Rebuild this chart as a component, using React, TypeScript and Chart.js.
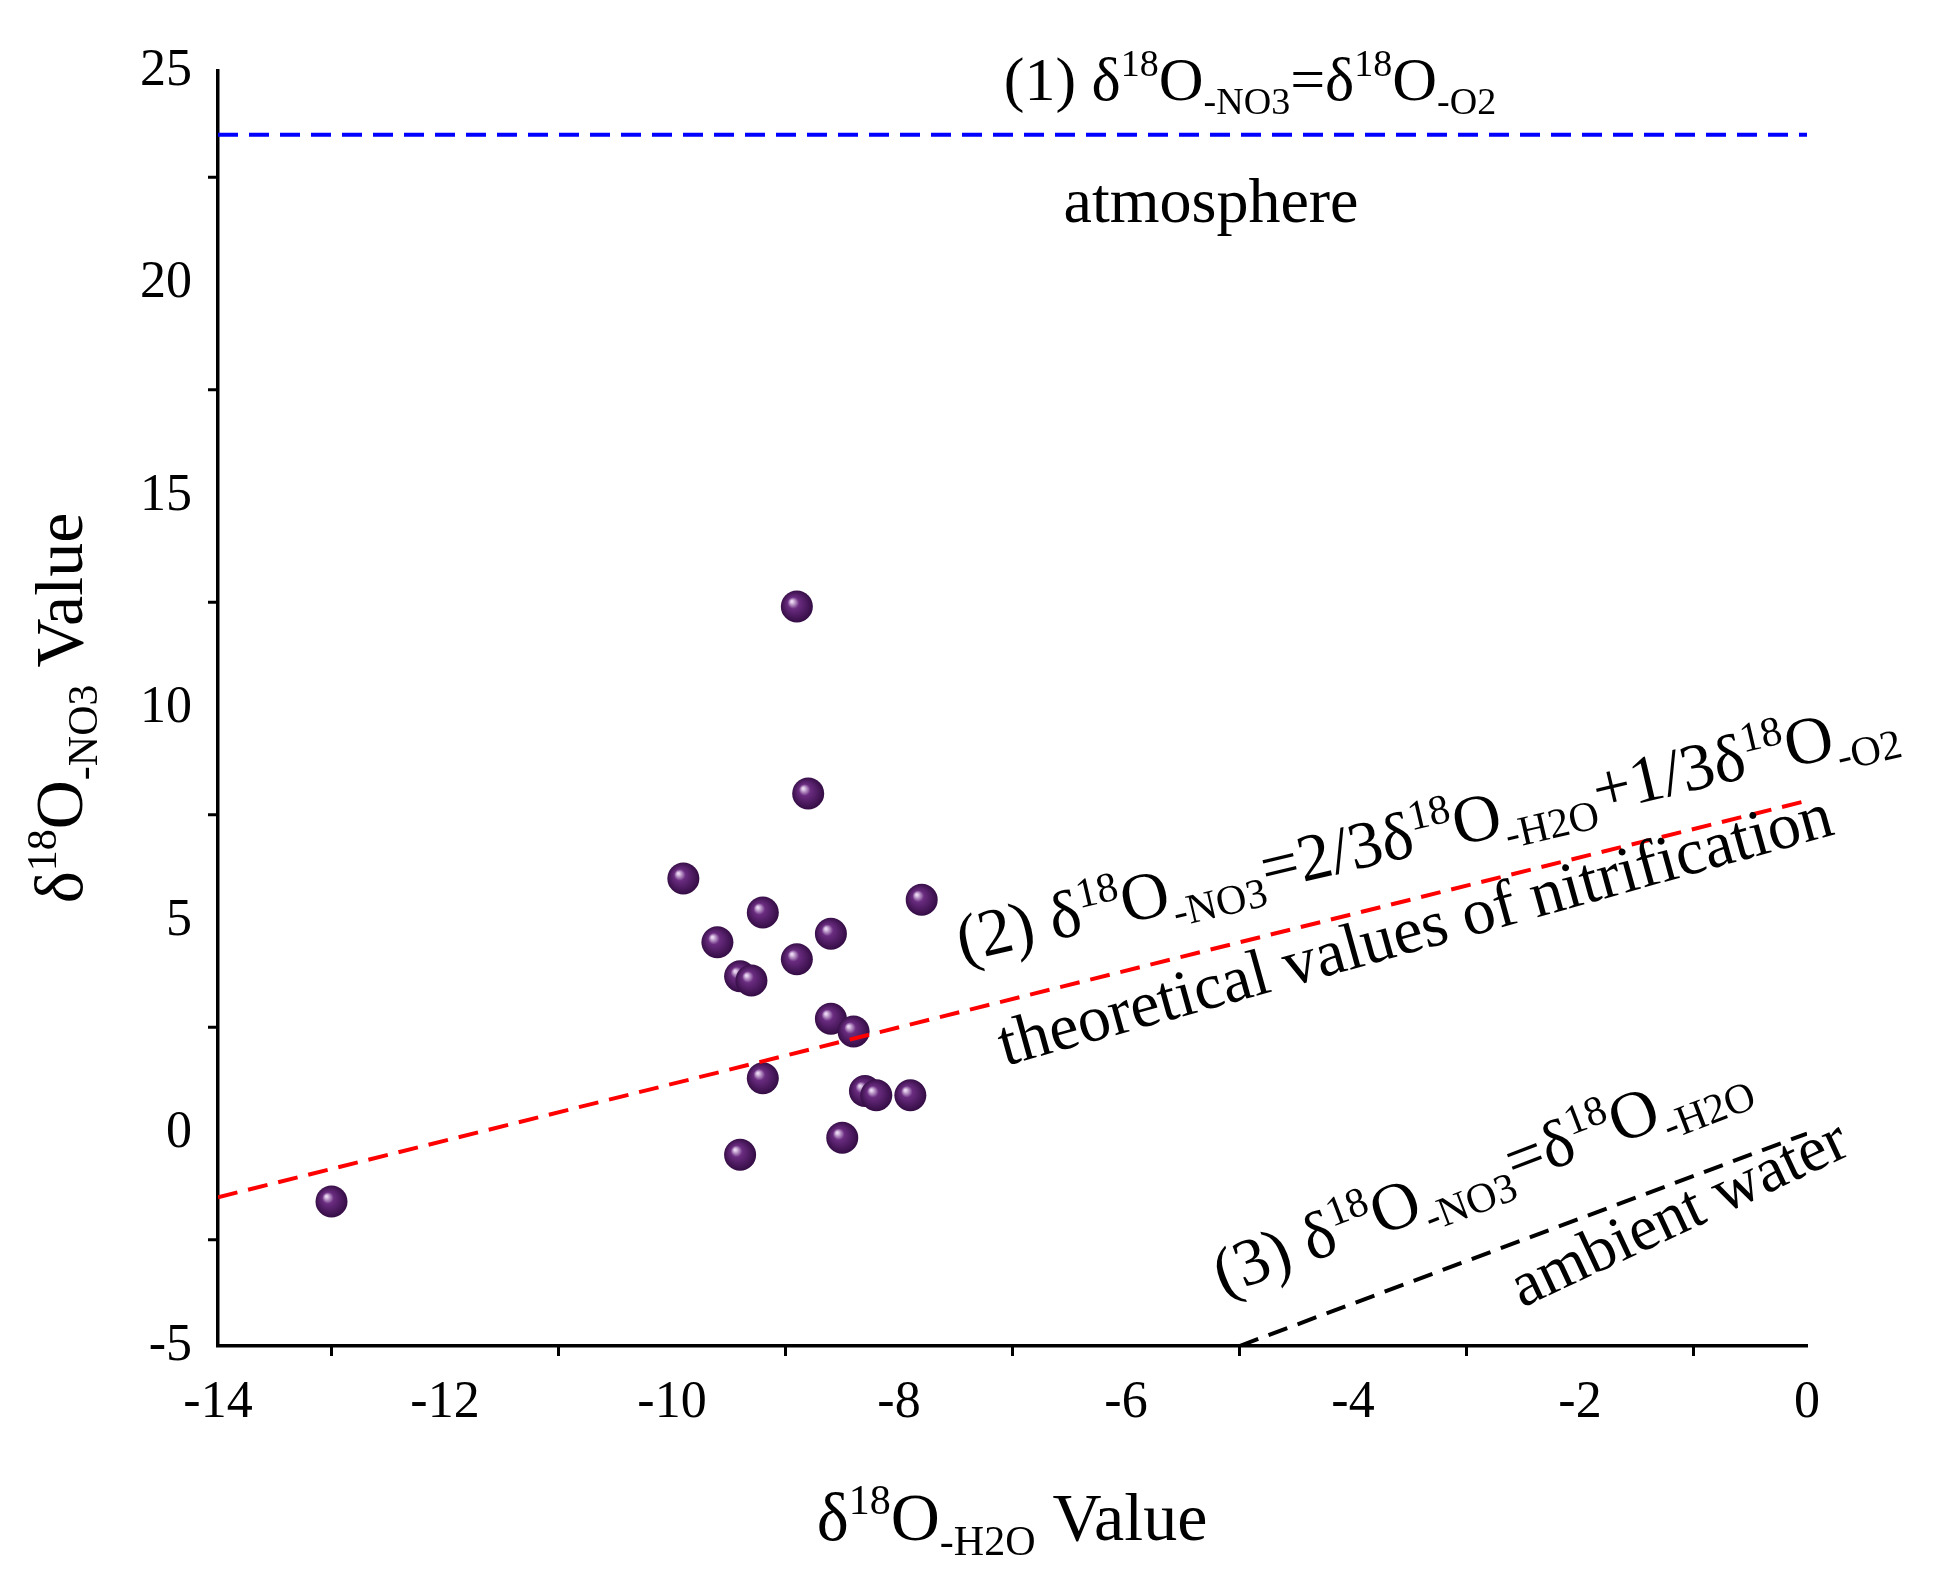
import React, { useEffect, useRef } from "react";
import { Chart, registerables } from "chart.js";
Chart.register(...registerables);

const xValues = [-13, -9.9, -9.6, -9.4, -9.3, -9.2, -9.2, -9.4, -8.9, -8.8, -8.9, -8.6, -8.6, -8.4, -8.3, -8.2, -7.9, -8.5, -7.8];
const yValues = [-1.6, 6.0, 4.5, 3.7, 3.6, 5.2, 1.3, -0.5, 12.4, 8.0, 4.1, 4.7, 2.7, 2.4, 1.0, 0.9, 0.9, -0.1, 5.5];
const atmosphereLine = [{ x: -14, y: 23.5 }, { x: 0, y: 23.5 }];
const nitrificationLine = [{ x: -14, y: -1.5 }, { x: 0, y: 7.83 }];
const waterLine = [{ x: -5, y: -5 }, { x: 0, y: 0 }];

const FONT = '"Liberation Serif", "Times New Roman", serif';
type Seg = [string, "n" | "sup" | "sub"];

function rich(ctx: CanvasRenderingContext2D, segs: Seg[], x: number, y: number, size: number, angle = 0, align: "left" | "center" = "left") {
  ctx.save();
  ctx.translate(x, y);
  ctx.rotate(angle);
  ctx.fillStyle = "#000";
  ctx.textBaseline = "alphabetic";
  ctx.textAlign = "left";
  const fontFor = (t: string) => `${t === "n" ? size : Math.round(size * 0.62)}px ${FONT}`;
  let total = 0;
  for (const [s, t] of segs) { ctx.font = fontFor(t); total += ctx.measureText(s).width; }
  let cx = align === "center" ? -total / 2 : 0;
  for (const [s, t] of segs) {
    ctx.font = fontFor(t);
    const dy = t === "sup" ? -size * 0.38 : t === "sub" ? size * 0.22 : 0;
    ctx.fillText(s, cx, dy);
    cx += ctx.measureText(s).width;
  }
  ctx.restore();
}

const deg = (d: number) => (d * Math.PI) / 180;

const annot = {
  id: "annot",
  afterDraw(chart: any) {
    const ctx = chart.ctx as CanvasRenderingContext2D;
    const xs = chart.scales.x, ys = chart.scales.y;
    ctx.save();
    ctx.strokeStyle = "#000";
    ctx.lineWidth = 3;
    for (let v = -13; v < 0; v += 2) {
      const px = xs.getPixelForValue(v);
      ctx.beginPath(); ctx.moveTo(px, ys.bottom); ctx.lineTo(px, ys.bottom + 10); ctx.stroke();
    }
    for (let v = -2.5; v < 25; v += 5) {
      const py = ys.getPixelForValue(v);
      ctx.beginPath(); ctx.moveTo(xs.left, py); ctx.lineTo(xs.left - 10, py); ctx.stroke();
    }
    ctx.restore();
    rich(ctx, [["(1) δ", "n"], ["18", "sup"], ["O", "n"], ["-NO3", "sub"], ["=δ", "n"], ["18", "sup"], ["O", "n"], ["-O2", "sub"]], 1250, 100, 62, 0, "center");
    rich(ctx, [["atmosphere", "n"]], 1211, 222, 64, 0, "center");
    rich(ctx, [["(2) δ", "n"], ["18", "sup"], ["O", "n"], ["-NO3", "sub"], ["=2/3δ", "n"], ["18", "sup"], ["O", "n"], ["-H2O", "sub"], ["+1/3δ", "n"], ["18", "sup"], ["O", "n"], ["-O2", "sub"]], 962, 962, 67, deg(-13.2));
    rich(ctx, [["theoretical values of nitrification", "n"]], 1005, 1066, 66, deg(-15.6));
    rich(ctx, [["(3) δ", "n"], ["18", "sup"], ["O", "n"], ["-NO3", "sub"], ["=δ", "n"], ["18", "sup"], ["O", "n"], ["-H2O", "sub"]], 1223, 1296, 67, deg(-21));
    rich(ctx, [["ambient water", "n"]], 1522, 1308, 64, deg(-25));
    rich(ctx, [["δ", "n"], ["18", "sup"], ["O", "n"], ["-H2O", "sub"], [" Value", "n"]], 1012, 1540, 68, 0, "center");
    rich(ctx, [["δ", "n"], ["18", "sup"], ["O", "n"], ["-NO3", "sub"], [" Value", "n"]], 82, 708, 68, deg(-90), "center");
  },
};

export default function App() {
  const ref = useRef<HTMLCanvasElement>(null);
  useEffect(() => {
    document.body.style.margin = "0";
    const ctx = ref.current!.getContext("2d")!;
    const ballColor = (c: any) => {
      const el = c.element;
      if (!el || el.x == null) return "#4b1a5e";
      const g = ctx.createRadialGradient(el.x - 5, el.y - 5, 1, el.x, el.y, 17);
      g.addColorStop(0, "#e8d4f0");
      g.addColorStop(0.3, "#6a2c80");
      g.addColorStop(1, "#300a40");
      return g;
    };
    const chart = new Chart(ref.current!, {
      type: "scatter",
      data: {
        datasets: [
          { data: atmosphereLine, showLine: true, borderColor: "#0000ff", borderWidth: 4, borderDash: [20, 11], pointRadius: 0 } as any,
          { data: nitrificationLine, showLine: true, borderColor: "#ff0000", borderWidth: 4, borderDash: [20, 11], pointRadius: 0 } as any,
          { data: waterLine, showLine: true, borderColor: "#000", borderWidth: 4, borderDash: [20, 11], pointRadius: 0 } as any,
          { data: xValues.map((x, i) => ({ x, y: yValues[i] })), pointRadius: 16, backgroundColor: ballColor, borderWidth: 0 } as any,
        ],
      },
      options: {
        animation: false,
        responsive: false,
        layout: { padding: { top: 71, right: 137 } },
        plugins: { legend: { display: false }, tooltip: { enabled: false } },
        scales: {
          x: {
            type: "linear", min: -14, max: 0,
            ticks: { stepSize: 2, color: "#000", font: { family: FONT, size: 52 }, padding: 8 },
            grid: { display: false, drawTicks: true, tickLength: 18, tickWidth: 3, tickColor: "#000" } as any,
            border: { color: "#000", width: 3.5 },
            afterFit: (s: any) => { s.height = 235; },
          },
          y: {
            type: "linear", min: -5, max: 25,
            ticks: { stepSize: 5, color: "#000", font: { family: FONT, size: 52 }, padding: 8 },
            grid: { display: false, drawTicks: true, tickLength: 18, tickWidth: 3, tickColor: "#000" } as any,
            border: { color: "#000", width: 3.5 },
            afterFit: (s: any) => { s.width = 218; },
          },
        },
      } as any,
      plugins: [annot],
    });
    return () => chart.destroy();
  }, []);
  return <div style={{ width: 1944, height: 1581 }}><canvas ref={ref} width={1944} height={1581} style={{ width: 1944, height: 1581 }} /></div>;
}
